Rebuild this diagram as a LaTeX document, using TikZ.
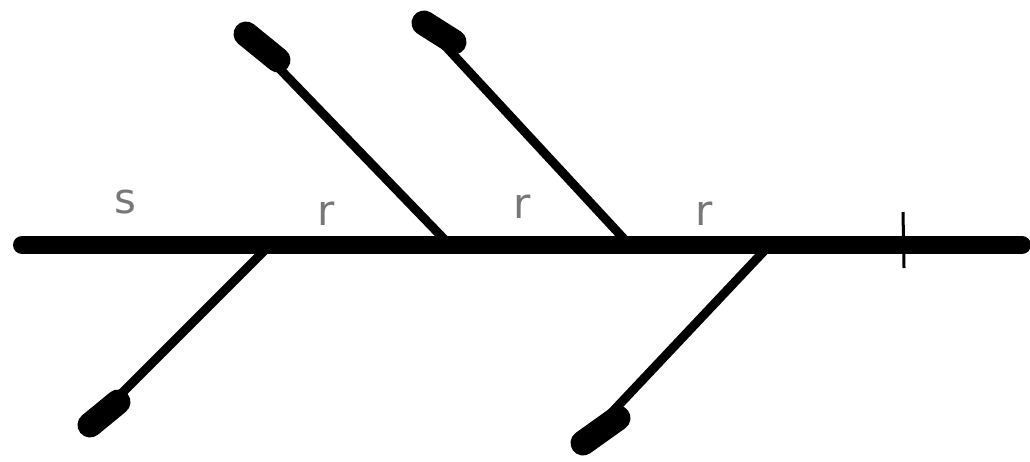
\documentclass[tikz,border=0pt]{standalone}
\usepackage{fontspec}
\setmainfont{DejaVu Sans}
\definecolor{lbl}{HTML}{777777}
\tikzset{
  mainline/.style={line width=18pt, line cap=round},
  branch/.style={line width=9pt},
  blob/.style={line width=25pt, line cap=round},
  ticky/.style={line width=3pt},
  lab/.style={text=lbl, font=\fontsize{42}{42}\selectfont, inner sep=0pt}
}
\begin{document}
\begin{tikzpicture}[x=1pt,y=-1pt]
\useasboundingbox (0,0) rectangle (1030,461);
% main line
\coordinate (L) at (22,245);
\coordinate (R) at (1022,245);
\draw[mainline] (L) -- (R);
% branch junctions
\coordinate (J1) at (445,240);
\coordinate (J2) at (625,240);
\coordinate (J3) at (265,250);
\coordinate (J4) at (765,250);
% branch ends
\coordinate (A1) at (246,34);
\coordinate (E1) at (278,60);
\coordinate (A2) at (424,23);
\coordinate (E2) at (454,42);
\coordinate (A3) at (90,425);
\coordinate (E3) at (118,402);
\coordinate (A4) at (583,443);
\coordinate (E4) at (618,418);
\draw[branch] (A1) -- (J1);
\draw[branch] (A2) -- (J2);
\draw[branch] (A3) -- (J3);
\draw[branch] (A4) -- (J4);
\draw[blob] (A1) -- (E1);
\draw[blob] (A2) -- (E2);
\draw[blob] (A3) -- (E3);
\draw[blob] (A4) -- (E4);
% tick
\coordinate (T1) at (903,212);
\coordinate (T2) at (904,268);
\draw[ticky] (T1) -- (T2);
% labels
\node[lab] (s) at (125,202) {s};
\node[lab] (r1) at (326,214) {r};
\node[lab] (r2) at (522,207) {r};
\node[lab] (r3) at (704,214) {r};
\end{tikzpicture}
\end{document}
